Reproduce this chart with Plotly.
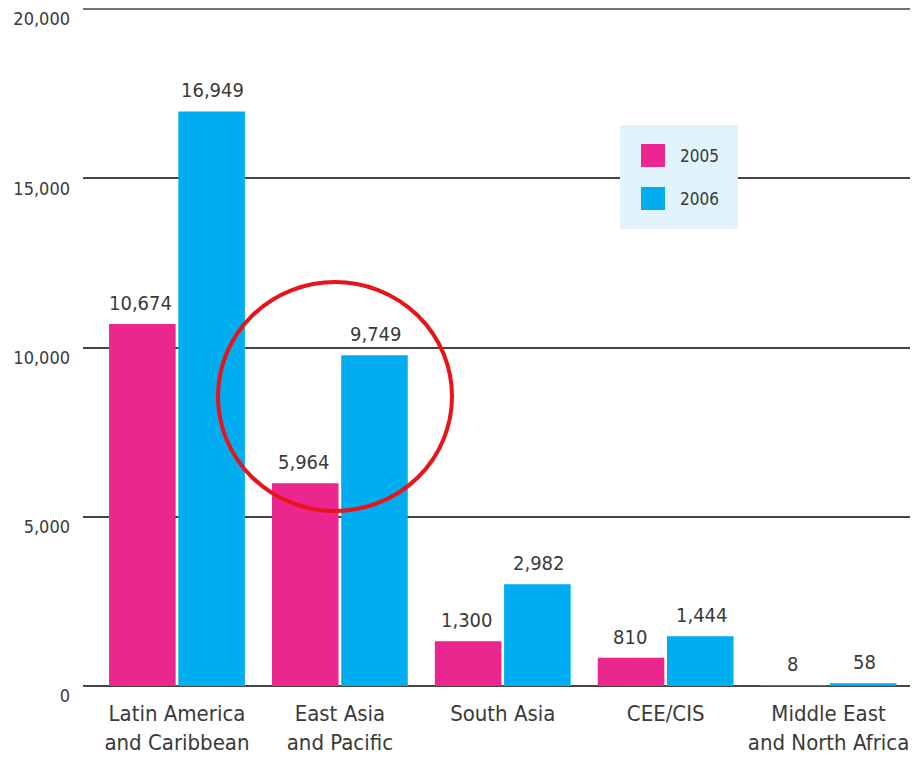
import plotly.graph_objects as go

regions = ["Latin America<br>and Caribbean", "East Asia<br>and Pacific", "South Asia",
           "CEE/CIS", "Middle East<br>and North Africa"]
values_2005 = [10674, 5964, 1300, 810, 8]
values_2006 = [16949, 9749, 2982, 1444, 58]
years = ["2005", "2006"]
y_ticks = [0, 5000, 10000, 15000, 20000]

PINK = "#EC268F"
CYAN = "#00AEEF"
TEXT = "#3a3a3a"
GRID = "#444444"
FONT = "DejaVu Sans Condensed, sans-serif"

# page body has an 8px margin, so the figure is 8px smaller than the window
OFF = 8
W, H = 924 - OFF, 758 - OFF
L, R, T, B = 83 - OFF, 14, 1, 72


def px(x, y):
    """screen pixel position -> paper coords"""
    x, y = x - OFF, y - OFF
    return (x - L) / (W - L - R), (H - B - y) / (H - T - B)


fig = go.Figure()
annotations = []
for name, vals, col, shift in [(years[0], values_2005, PINK, -36), (years[1], values_2006, CYAN, 36)]:
    fig.add_trace(go.Bar(x=regions, y=vals, name=name, marker_color=col,
                         marker_line=dict(color=col, width=1.5)))
    for reg, v in zip(regions, vals):
        annotations.append(dict(x=reg, y=v, text=f"{v:,}", showarrow=False, xshift=shift,
                                yanchor="bottom", yshift=8,
                                font=dict(size=20, color=TEXT, family=FONT)))

shapes = []
# top gridline (plotly drops gridlines sitting on the plot edge)
shapes.append(dict(type="line", xref="paper", yref="paper", x0=0, x1=1, y0=1, y1=1,
                   line=dict(color=GRID, width=1.6), layer="below"))
# legend box
x0, y1 = px(620, 125)
x1, y0 = px(738, 229)
shapes.append(dict(type="rect", xref="paper", yref="paper", x0=x0, x1=x1, y0=y0, y1=y1,
                   fillcolor="#E1F3FD", line_width=0, layer="above"))
for i, (yr, col) in enumerate(zip(years, [PINK, CYAN])):
    top = 144 + i * 43
    sx0, sy1 = px(641, top)
    sx1, sy0 = px(665, top + 23)
    shapes.append(dict(type="rect", xref="paper", yref="paper", x0=sx0, x1=sx1, y0=sy0, y1=sy1,
                       fillcolor=col, line_width=0, layer="above"))
    tx, ty = px(678, top + 12)
    annotations.append(dict(xref="paper", yref="paper", x=tx, y=ty, text=yr, showarrow=False,
                            xanchor="left", yanchor="middle",
                            font=dict(size=17, color=TEXT, family=FONT)))

# red highlight circle around East Asia
cx0, cy1 = px(218, 282)
cx1, cy0 = px(452, 511)
shapes.append(dict(type="circle", xref="paper", yref="paper", x0=cx0, x1=cx1, y0=cy0, y1=cy1,
                   line=dict(color="#E8141B", width=4), layer="above"))

fig.update_layout(
    width=W, height=H, margin=dict(l=L, r=R, t=T, b=B, autoexpand=False),
    plot_bgcolor="white", paper_bgcolor="white",
    barmode="group", bargap=0.15, bargroupgap=0.06,
    showlegend=False, shapes=shapes, annotations=annotations,
    font=dict(family=FONT, color=TEXT),
)
fig.update_xaxes(range=[-0.577, 4.5], showgrid=False, showline=False, ticks="", automargin=False,
                 tickfont=dict(size=22, color=TEXT, family=FONT), ticklabelstandoff=12)
fig.update_yaxes(range=[0, 20000], tickvals=y_ticks, tickformat=",", automargin=False,
                 showgrid=True, gridcolor=GRID, gridwidth=1.6,
                 zeroline=True, zerolinecolor=GRID, zerolinewidth=1.6,
                 showline=False, ticks="", ticklabelstandoff=12, ticklabelshift=10,
                 ticklabeloverflow="allow",
                 tickfont=dict(size=18, color=TEXT, family=FONT))

fig.write_html("out.html")
